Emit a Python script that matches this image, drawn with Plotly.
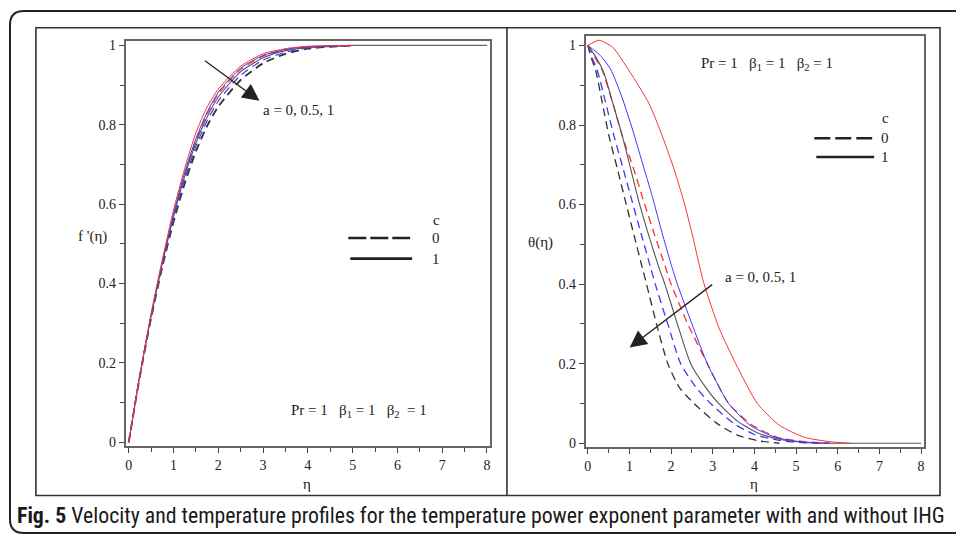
import plotly.graph_objects as go

W, H = 956, 542

# ---------------- data ----------------
# Left panel: f'(eta), a = 0, 0.5, 1 ; c = 0 (dashed), 1 (solid)
eta_f = [0, 0.25, 0.5, 0.75, 1.0, 1.25, 1.5, 1.75, 2.0, 2.5, 3.0, 3.5, 4.0, 5.0]
f_a0_c1 = [0, 0.17, 0.325, 0.46, 0.585, 0.69, 0.78, 0.845, 0.89, 0.948, 0.979, 0.992, 0.998, 1.0]
f_a05_c1 = [0, 0.17, 0.32, 0.455, 0.575, 0.68, 0.765, 0.832, 0.882, 0.943, 0.975, 0.99, 0.997, 1.0]
f_a0_c0 = [0, 0.17, 0.32, 0.452, 0.572, 0.675, 0.76, 0.827, 0.878, 0.94, 0.973, 0.989, 0.996, 1.0]
f_a1_c1 = [0, 0.17, 0.318, 0.45, 0.568, 0.67, 0.754, 0.82, 0.87, 0.934, 0.969, 0.987, 0.995, 1.0]
f_a05_c0 = [0, 0.168, 0.316, 0.447, 0.562, 0.662, 0.745, 0.81, 0.86, 0.925, 0.963, 0.983, 0.994, 1.0]
f_a1_c0 = [0, 0.167, 0.313, 0.442, 0.555, 0.652, 0.733, 0.797, 0.846, 0.913, 0.955, 0.979, 0.992, 1.0]
eta_f_tail = [5.0, 6.0, 7.0, 8.0]
f_tail = [1.0, 1.0, 1.0, 1.0]

# Right panel: theta(eta)
eta_t_a0_c1 = [0, 0.27, 0.6, 0.99, 1.47, 1.79, 2.07, 2.31, 2.51, 2.78, 3.15, 3.55, 4.07, 4.6, 5.2, 5.8, 6.3]
t_a0_c1 = [1.0, 1.013, 0.995, 0.937, 0.854, 0.772, 0.689, 0.606, 0.524, 0.404, 0.29, 0.2, 0.1, 0.045, 0.015, 0.004, 0.0]
eta_t_a05_c1 = [0, 0.3, 0.55, 0.82, 1.07, 1.31, 1.55, 1.78, 2.0, 2.15, 2.5, 2.87, 3.38, 3.9, 4.5, 5.1, 5.8]
t_a05_c1 = [1.0, 0.975, 0.94, 0.87, 0.79, 0.705, 0.62, 0.53, 0.45, 0.4, 0.3, 0.2, 0.1, 0.045, 0.015, 0.004, 0.0]
eta_t_a1_c1 = [0, 0.2, 0.39, 0.6, 0.83, 1.03, 1.23, 1.47, 1.71, 1.85, 2.15, 2.47, 2.8, 3.14, 3.6, 4.1, 4.6, 5.2, 5.8, 7.0, 8.0]
t_a1_c1 = [1.0, 0.97, 0.93, 0.855, 0.772, 0.69, 0.606, 0.52, 0.441, 0.4, 0.3, 0.2, 0.145, 0.1, 0.055, 0.025, 0.01, 0.002, 0.0, 0.0, 0.0]
eta_t_a0_c0 = [0, 0.2, 0.35, 0.6, 0.83, 1.1, 1.35, 1.6, 1.87, 2.0, 2.4, 2.87, 3.38, 3.95, 4.55, 5.2, 5.8]
t_a0_c0 = [1.0, 0.965, 0.937, 0.855, 0.772, 0.69, 0.606, 0.525, 0.441, 0.4, 0.3, 0.2, 0.1, 0.045, 0.015, 0.004, 0.0]
eta_t_a05_c0 = [0, 0.1, 0.23, 0.42, 0.63, 0.85, 1.07, 1.29, 1.51, 1.62, 1.92, 2.23, 2.6, 2.95, 3.5, 4.0, 4.6, 5.2, 5.6]
t_a05_c0 = [1.0, 0.97, 0.937, 0.86, 0.772, 0.69, 0.606, 0.523, 0.441, 0.4, 0.3, 0.2, 0.14, 0.1, 0.05, 0.022, 0.007, 0.001, 0.0]
eta_t_a1_c0 = [0, 0.08, 0.19, 0.35, 0.51, 0.71, 0.91, 1.11, 1.31, 1.41, 1.65, 1.92, 2.2, 2.55, 3.1, 3.6, 4.1, 4.6]
t_a1_c0 = [1.0, 0.97, 0.937, 0.855, 0.772, 0.69, 0.606, 0.523, 0.441, 0.4, 0.3, 0.2, 0.14, 0.1, 0.05, 0.02, 0.006, 0.0]

x_ticks = [0, 1, 2, 3, 4, 5, 6, 7, 8]
y_ticks = [0, 0.2, 0.4, 0.6, 0.8, 1]
y_tick_labels = ["0", "0.2", "0.4", "0.6", "0.8", "1"]
legend_title = "c"
legend_labels = ["0", "1"]
param_text = "Pr = 1   β<sub>1</sub> = 1   β<sub>2</sub>  = 1"
param_text_r = "Pr = 1   β<sub>1</sub> = 1   β<sub>2</sub> = 1"
arrow_text = "a = 0, 0.5, 1"
caption_bold = "Fig. 5"
caption_rest = " Velocity and temperature profiles for the temperature power exponent parameter with and without IHG"

RED = "#ff3030"
BLUE = "#3a3aff"
BLACK = "#333333"

def px(x):
    return x / W

def py(y):
    return 1 - y / H

fig = go.Figure()

def add(x, y, color, dash, width, axis):
    fig.add_trace(go.Scatter(
        x=x, y=y, mode="lines", line=dict(color=color, dash=dash, width=width, shape="spline", smoothing=0.6),
        xaxis="x" if axis == 1 else "x2", yaxis="y" if axis == 1 else "y2",
        showlegend=False, hoverinfo="skip"))

DASH = "8px,5px"
# left
add(eta_f, f_a1_c0, BLACK, DASH, 1.8, 1)
add(eta_f, f_a05_c0, BLUE, DASH, 1.2, 1)
add(eta_f, f_a0_c0, RED, DASH, 1.2, 1)
add(eta_f, f_a1_c1, "#555555", "solid", 1.1, 1)
add(eta_f_tail, f_tail, "#666666", "solid", 1.3, 1)
add(eta_f, f_a05_c1, BLUE, "solid", 1.0, 1)
add(eta_f, f_a0_c1, RED, "solid", 1.0, 1)
# right
add(eta_t_a1_c0, t_a1_c0, BLACK, DASH, 1.3, 2)
add(eta_t_a05_c0, t_a05_c0, BLUE, DASH, 1.3, 2)
add(eta_t_a0_c0, t_a0_c0, RED, DASH, 1.3, 2)
add(eta_t_a1_c1, t_a1_c1, "#555555", "solid", 1.1, 2)
add(eta_t_a05_c1, t_a05_c1, BLUE, "solid", 1.0, 2)
add(eta_t_a0_c1, t_a0_c1, RED, "solid", 1.0, 2)

TICKFONT = dict(family="Liberation Serif", size=14, color="#222")

def xax(domain, rng):
    return dict(domain=domain, range=rng, tickvals=x_ticks, ticks="outside", ticklen=5, tickwidth=1,
                tickcolor="#444", showline=True, mirror=True, linecolor="#666", linewidth=2,
                showgrid=False, zeroline=False, tickfont=TICKFONT,
                minor=dict(dtick=0.5, tick0=0, ticks="outside", ticklen=4, tickcolor="#444", showgrid=False))

def yax(domain, rng, anchor):
    return dict(domain=domain, range=rng, tickvals=y_ticks, ticktext=y_tick_labels, ticks="outside",
                ticklen=5, tickwidth=1, tickcolor="#444", showline=True, mirror=True, linecolor="#666",
                linewidth=2, showgrid=False, zeroline=False, tickfont=TICKFONT, anchor=anchor,
                minor=dict(dtick=0.1, tick0=0, ticks="outside", ticklen=4, tickcolor="#444", showgrid=False))

fig.update_layout(
    width=W, height=H, margin=dict(l=0, r=0, t=0, b=0),
    paper_bgcolor="white", plot_bgcolor="white", showlegend=False,
    xaxis=dict(**xax([px(124), px(489)], [-0.067, 8.067]), anchor="y"),
    yaxis=yax([py(449), py(39)], [-0.01, 1.01], "x"),
    xaxis2=dict(**xax([px(585), px(924)], [-0.048, 8.072]), anchor="y2"),
    yaxis2=yax([py(450), py(33)], [-0.0099, 1.0248], "x2"),
)

shapes = []
# outer rounded frame
r = 14
x0, y0, x1, y1 = 8, 8, 970, 537
path = (f"M {px(x0+r)},{py(y0)} L {px(x1)},{py(y0)} L {px(x1)},{py(y1)} L {px(x0+r)},{py(y1)} "
        f"Q {px(x0)},{py(y1)} {px(x0)},{py(y1-r)} L {px(x0)},{py(y0+r)} Q {px(x0)},{py(y0)} {px(x0+r)},{py(y0)} Z")
shapes.append(dict(type="path", xref="paper", yref="paper", path=path, line=dict(color="#222", width=2)))
shapes.append(dict(type="rect", xref="paper", yref="paper", x0=px(34), x1=px(940), y0=py(499), y1=py(25),
                   line=dict(color="#333", width=1.6)))
shapes.append(dict(type="line", xref="paper", yref="paper", x0=px(506), x1=px(506), y0=py(499), y1=py(25),
                   line=dict(color="#333", width=1.6)))
# legends
for (lx0, lx1, ly_d, ly_s, dpat) in [(347, 409, 238, 259, "18px,4px"), (814, 872, 137, 156, "16px,5px")]:
    shapes.append(dict(type="line", xref="paper", yref="paper", x0=px(lx0), x1=px(lx1), y0=py(ly_d), y1=py(ly_d),
                       line=dict(color="#222", width=2.6, dash=dpat)))
    shapes.append(dict(type="line", xref="paper", yref="paper", x0=px(lx0 + 2), x1=px(lx1 + 2), y0=py(ly_s), y1=py(ly_s),
                       line=dict(color="#222", width=2.6)))
fig.update_layout(shapes=shapes)

SERIF = dict(family="Liberation Serif", size=15, color="#222")
ann = []
def text(x, y, s, xanchor="center", font=SERIF):
    ann.append(dict(x=px(x), y=py(y), xref="paper", yref="paper", text=s, showarrow=False,
                    xanchor=xanchor, yanchor="middle", font=font))

# legends text
text(435, 220, legend_title)
text(435, 238, legend_labels[0])
text(435, 259, legend_labels[1])
text(885, 116, legend_title)
text(885, 137, legend_labels[0])
text(885, 156, legend_labels[1])
# params
text(288, 413, param_text, "left")
text(698, 62, param_text_r, "left")
# arrow labels
text(260, 108, arrow_text, "left")
text(723, 278, arrow_text, "left")
# axis titles
text(91, 237, "f '(η)")
text(540, 243, "θ(η)")
text(306, 487, "η")
text(754, 487, "η")
# caption
ann.append(dict(x=px(13), y=py(519), xref="paper", yref="paper",
                text=f"<b>{caption_bold}</b>{caption_rest}", showarrow=False, xanchor="left", yanchor="middle",
                font=dict(family="Liberation Sans Narrow, Roboto Condensed, Liberation Sans", size=21.8, color="#1a1a1a")))
# arrows (head position in paper coords, tail as pixel offsets)
def arrow(hx, hy, tx, ty):
    ann.append(dict(x=px(hx), y=py(hy), ax=tx - hx, ay=ty - hy, xref="paper", yref="paper",
                    axref="pixel", ayref="pixel", text="", showarrow=True, arrowhead=2,
                    arrowsize=2.6, arrowwidth=1.3, arrowcolor="#222"))
arrow(258, 99, 202, 58)
arrow(629, 349, 713, 285)
fig.update_layout(annotations=ann)

fig.write_html("out.html")
